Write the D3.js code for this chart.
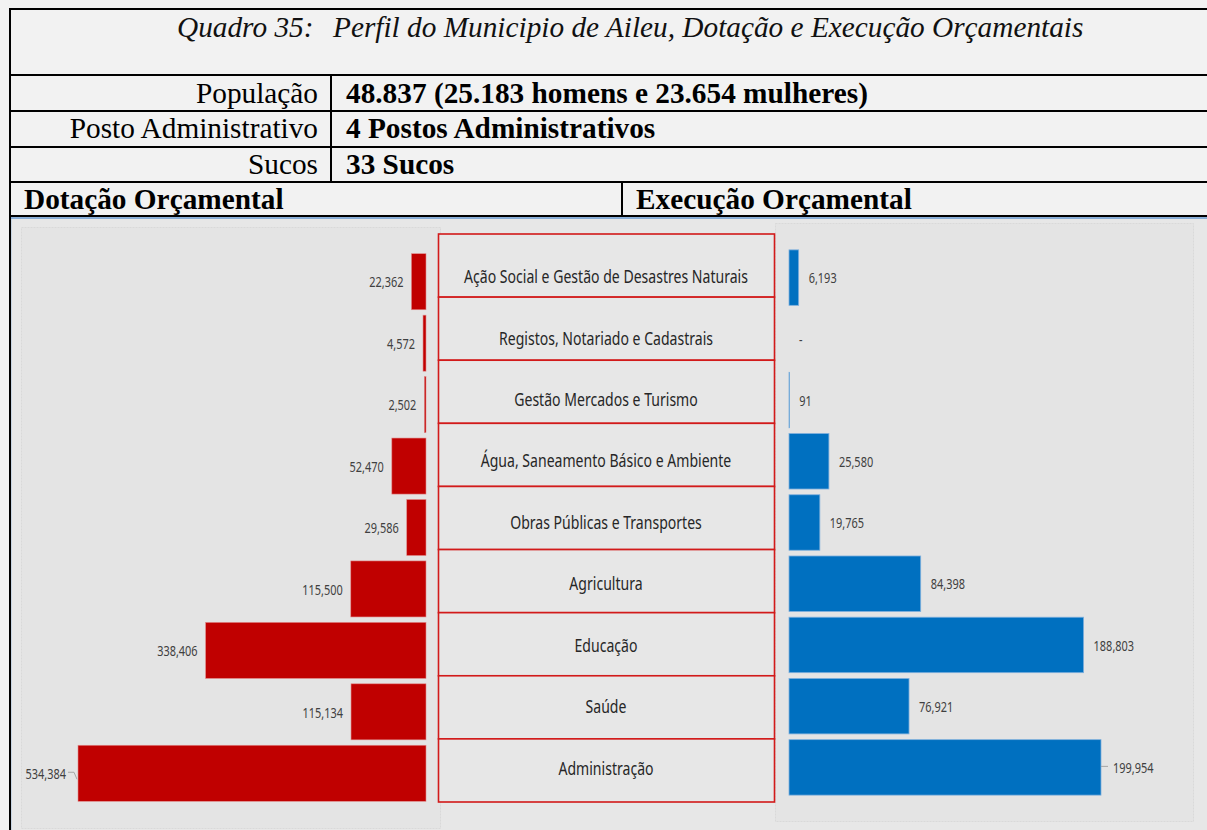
<!DOCTYPE html>
<html>
<head>
<meta charset="utf-8">
<script src="https://cdn.jsdelivr.net/npm/d3@7"></script>
<style>
  body { margin: 0; background: #f2f2f2; overflow: hidden; }
  svg { display: block; }
</style>
</head>
<body>
<svg id="chart" width="1207" height="830"></svg>
<script>
// header table
const titleLead = 'Quadro 35:'
const titleText = 'Perfil do Municipio de Aileu, Dotação e Execução Orçamentais'
const profileLabels = ['População', 'Posto Administrativo', 'Sucos']
const profileValues = ['48.837 (25.183 homens e 23.654 mulheres)', '4 Postos Administrativos', '33 Sucos']
const sectionTitles = ['Dotação Orçamental', 'Execução Orçamental']

// chart data, top to bottom
const categories = [
  'Ação Social e Gestão de Desastres Naturais',
  'Registos, Notariado e Cadastrais',
  'Gestão Mercados e Turismo',
  'Água, Saneamento Básico e Ambiente',
  'Obras Públicas e Transportes',
  'Agricultura',
  'Educação',
  'Saúde',
  'Administração',
]
const dotacao = [22362, 4572, 2502, 52470, 29586, 115500, 338406, 115134, 534384]
const execucao = [6193, 0, 91, 25580, 19765, 84398, 188803, 76921, 199954]

const W = 1207
const H = 830
const RED = '#c00000'
const BLUE = '#0070c0'
const SERIF = '"Liberation Serif", "Times New Roman", serif'
const SANS = '"Noto Sans", "Open Sans", sans-serif'
const SERIF_SIZE = 29.3

const svg = d3.select('#chart')
const fmt = (v) => (v === 0 ? '-' : d3.format(',')(v))

// narrow text, like the calibri in the original
const squeeze = (sel, sx) => sel.attr('transform', function() {
  const t = d3.select(this)
  return `translate(${t.attr('data-x')},${t.attr('data-y')}) scale(${sx},1)`
})

const drawHeader = () => {
  const g = svg.append('g').attr('class', 'header')
  const rowLines = [9, 75, 111, 147, 182, 216]

  g.selectAll('line.h')
    .data(rowLines)
    .enter().append('line')
    .attr('class', 'h')
    .attr('x1', 10).attr('x2', W)
    .attr('y1', (d) => d).attr('y2', (d) => d)
    .attr('stroke', '#000').attr('stroke-width', 2)

  g.append('text')
    .attr('x', 177).attr('y', 37)
    .attr('font-family', SERIF).attr('font-style', 'italic').attr('font-size', SERIF_SIZE)
    .attr('fill', '#111')
    .text(titleLead)
  g.append('text')
    .attr('x', 333).attr('y', 37)
    .attr('font-family', SERIF).attr('font-style', 'italic').attr('font-size', SERIF_SIZE)
    .attr('fill', '#111')
    .text(titleText)

  const rowY = d3.scaleBand().domain(profileLabels).range([75, 182])

  g.selectAll('text.lab')
    .data(profileLabels)
    .enter().append('text')
    .attr('class', 'lab')
    .attr('x', 318)
    .attr('y', (d) => rowY(d) + rowY.bandwidth() - 8)
    .attr('text-anchor', 'end')
    .attr('font-family', SERIF).attr('font-size', SERIF_SIZE)
    .attr('fill', '#000')
    .text((d) => d)

  g.selectAll('text.val')
    .data(profileValues)
    .enter().append('text')
    .attr('class', 'val')
    .attr('x', 346)
    .attr('y', (d, i) => rowY(profileLabels[i]) + rowY.bandwidth() - 8)
    .attr('font-family', SERIF).attr('font-weight', 'bold').attr('font-size', SERIF_SIZE)
    .attr('fill', '#000')
    .text((d) => d)

  g.append('line')
    .attr('x1', 331).attr('x2', 331).attr('y1', 75).attr('y2', 182)
    .attr('stroke', '#000').attr('stroke-width', 2)
  g.append('line')
    .attr('x1', 622).attr('x2', 622).attr('y1', 182).attr('y2', 216)
    .attr('stroke', '#000').attr('stroke-width', 2)

  g.selectAll('text.sec')
    .data(sectionTitles)
    .enter().append('text')
    .attr('class', 'sec')
    .attr('x', (d, i) => (i === 0 ? 24 : 636))
    .attr('y', 209)
    .attr('font-family', SERIF).attr('font-weight', 'bold').attr('font-size', SERIF_SIZE)
    .attr('fill', '#000')
    .text((d) => d)
}

const drawChart = () => {
  const g = svg.append('g').attr('class', 'chart')

  // chart frame and the two plot panels
  g.append('rect')
    .attr('x', 10.5).attr('y', 218).attr('width', W).attr('height', H)
    .attr('fill', '#e7e7e7').attr('stroke', '#6a9bd1').attr('stroke-width', 1.5)
  g.append('rect')
    .attr('x', 21.5).attr('y', 227.5).attr('width', 419).attr('height', 601)
    .attr('fill', '#e4e4e4').attr('stroke', '#d9d9d9').attr('stroke-dasharray', '2,1')
  g.append('rect')
    .attr('x', 775.5).attr('y', 223.5).attr('width', 418).attr('height', 598)
    .attr('fill', '#e4e4e4').attr('stroke', '#d9d9d9').attr('stroke-dasharray', '2,1')

  const yL = d3.scaleBand().domain(categories).range([251, 804]).paddingInner(0.088).paddingOuter(0.044)
  const yR = d3.scaleBand().domain(categories).range([247, 798]).paddingInner(0.094).paddingOuter(0.047)
  const yBox = d3.scaleBand().domain(categories).range([234, 802])

  const xL = d3.scaleLinear().domain([0, d3.max(dotacao)]).range([426, 78])
  const xR = d3.scaleLinear().domain([0, d3.max(execucao)]).range([789, 1101])

  const left = categories.map((c, i) => ({ cat: c, value: dotacao[i] }))
  const right = categories.map((c, i) => ({ cat: c, value: execucao[i] }))

  // dotação bars
  g.append('g').selectAll('rect')
    .data(left)
    .enter().append('rect')
    .attr('x', (d) => xL(d.value))
    .attr('y', (d) => yL(d.cat))
    .attr('width', (d) => xL(0) - xL(d.value))
    .attr('height', yL.bandwidth())
    .attr('fill', RED)
    .attr('stroke', '#e08a8a').attr('stroke-width', 0.6)

  const maxL = d3.max(dotacao)
  g.append('g').selectAll('text')
    .data(left)
    .enter().append('text')
    .attr('data-x', (d) => xL(d.value) - (d.value === maxL ? 12 : 8))
    .attr('data-y', (d) => yL(d.cat) + yL.bandwidth() / 2)
    .attr('text-anchor', 'end')
    .attr('dominant-baseline', 'central')
    .attr('font-family', SANS).attr('font-size', 15)
    .attr('fill', '#404040')
    .text((d) => fmt(d.value))
    .call(squeeze, 0.73)

  // leader line on the biggest one
  const big = left.find((d) => d.value === maxL)
  const by = yL(big.cat) + yL.bandwidth() / 2
  g.append('path')
    .attr('d', `M${xL(big.value) - 10},${by - 1}H${xL(big.value) - 4}L${xL(big.value) - 1},${by + 6}`)
    .attr('fill', 'none').attr('stroke', '#a6a6a6').attr('stroke-width', 1)

  // execução bars
  g.append('g').selectAll('rect')
    .data(right.filter((d) => d.value > 0))
    .enter().append('rect')
    .attr('x', xR(0))
    .attr('y', (d) => yR(d.cat))
    .attr('width', (d) => Math.max(xR(d.value) - xR(0), 0.6))
    .attr('height', yR.bandwidth())
    .attr('fill', BLUE)
    .attr('stroke', '#7fb0dd').attr('stroke-width', 0.8)

  const maxR = d3.max(execucao)
  g.append('g').selectAll('text')
    .data(right)
    .enter().append('text')
    .attr('data-x', (d) => xR(d.value) + (d.value === maxR ? 12 : 10))
    .attr('data-y', (d) => yR(d.cat) + yR.bandwidth() / 2)
    .attr('dominant-baseline', 'central')
    .attr('font-family', SANS).attr('font-size', 15)
    .attr('fill', '#404040')
    .text((d) => fmt(d.value))
    .call(squeeze, 0.73)

  const bigR = right.find((d) => d.value === maxR)
  const bry = yR(bigR.cat) + yR.bandwidth() / 2
  g.append('line')
    .attr('x1', xR(bigR.value)).attr('x2', xR(bigR.value) + 7)
    .attr('y1', bry - 1).attr('y2', bry - 1)
    .attr('stroke', '#a6a6a6').attr('stroke-width', 1)

  // category boxes in the middle
  g.append('g').selectAll('rect')
    .data(categories)
    .enter().append('rect')
    .attr('x', 438.5)
    .attr('y', (d) => yBox(d))
    .attr('width', 336)
    .attr('height', yBox.bandwidth())
    .attr('fill', '#e7e7e7')
    .attr('stroke', '#d21a1a').attr('stroke-width', 1.6)

  g.append('g').selectAll('text')
    .data(categories)
    .enter().append('text')
    .attr('data-x', 606)
    .attr('data-y', (d) => yL(d) + yL.bandwidth() / 2 - 6)
    .attr('text-anchor', 'middle')
    .attr('dominant-baseline', 'central')
    .attr('font-family', SANS).attr('font-size', 19)
    .attr('fill', '#262626')
    .text((d) => d)
    .call(squeeze, 0.74)

  // table left border runs down the page
  svg.append('line')
    .attr('x1', 10).attr('x2', 10).attr('y1', 8).attr('y2', H)
    .attr('stroke', '#000').attr('stroke-width', 2)
}

drawChart()
drawHeader()
</script>
</body>
</html>
